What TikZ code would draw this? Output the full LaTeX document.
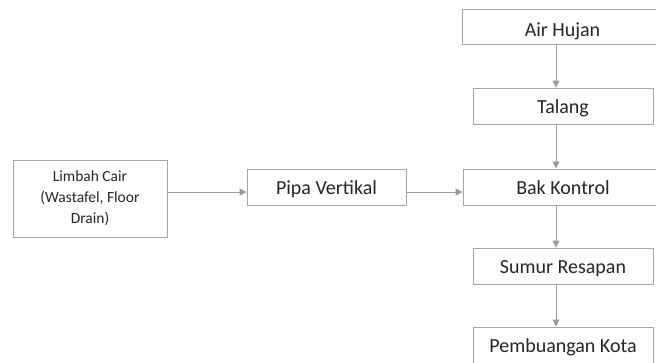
\documentclass[tikz,border=0pt]{standalone}
\usepackage{fontspec}
\setmainfont{Carlito}
\usetikzlibrary{arrows.meta}
\definecolor{boxgray}{HTML}{A5A5A5}
\definecolor{arrgray}{HTML}{9A9A9A}
\definecolor{txt}{HTML}{262626}
\begin{document}
\begin{tikzpicture}[x=1pt,y=-1pt,
  boxnode/.style={draw=boxgray,line width=1pt,rectangle,inner sep=0pt,text=txt,font=\fontsize{20}{24}\selectfont,text height=17pt,text depth=2pt},
  conn/.style={draw=arrgray,line width=1pt,-{Triangle[length=7pt,width=7pt]}}]
\useasboundingbox (0,0) rectangle (656,362);
\clip (0,0) rectangle (656,362);
\fill[white] (0,0) rectangle (656,362);
\node[draw=boxgray,line width=1pt,rectangle,inner sep=0pt,text=txt,minimum width=154pt,minimum height=77pt,align=center,font=\fontsize{15.5}{21}\selectfont] (lim) at (90,198.5) {Limbah Cair\\(Wastafel, Floor\\Drain)};
\node[boxnode,minimum width=159pt,minimum height=36pt] (pipa) at (326.5,187) {Pipa Vertikal};
\node[boxnode,minimum width=201pt,minimum height=35pt,text height=20pt,text depth=0pt] (air) at (562.5,26.5) {Air Hujan};
\node[boxnode,minimum width=180pt,minimum height=36pt] (tal) at (563,106) {Talang};
\node[boxnode,minimum width=200pt,minimum height=36pt] (bak) at (563,187) {Bak Kontrol};
\node[boxnode,minimum width=180pt,minimum height=36pt] (sum) at (563,266) {Sumur Resapan};
\node[boxnode,minimum width=180pt,minimum height=36pt] (pem) at (563,345) {Pembuangan Kota};
\draw[conn] (lim.east |- 0,192) -- (pipa.west |- 0,192);
\draw[conn] (pipa.east |- 0,192) -- (bak.west |- 0,192);
\draw[conn] (air.south -| 556,0) -- (tal.north -| 556,0);
\draw[conn] (tal.south -| 556,0) -- (bak.north -| 556,0);
\draw[conn] (bak.south -| 556,0) -- (sum.north -| 556,0);
\draw[conn] (sum.south -| 556,0) -- (pem.north -| 556,0);
\end{tikzpicture}
\end{document}
